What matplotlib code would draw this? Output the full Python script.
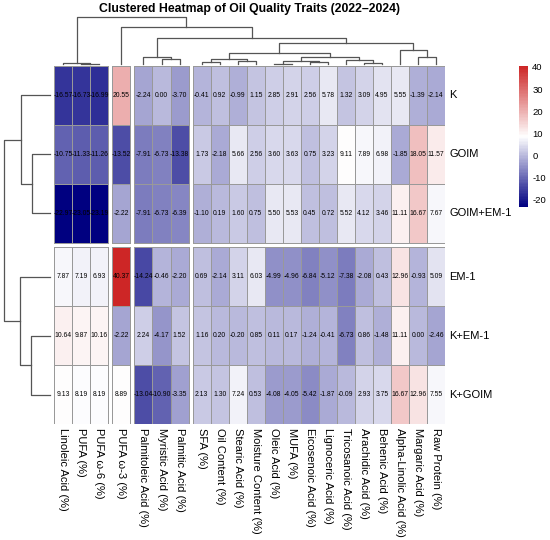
import numpy as np
import matplotlib
matplotlib.use("Agg")
import matplotlib.pyplot as plt
from matplotlib.colors import LinearSegmentedColormap, Normalize
from matplotlib.cm import ScalarMappable

plt.rcParams["font.family"] = ["Liberation Sans", "DejaVu Sans"]
plt.rcParams["axes.unicode_minus"] = False

# ----------------------------------------------------------------------------
# data, in the order shown on the reference
treatments = ["K", "GOIM", "GOIM+EM-1", "EM-1", "K+EM-1", "K+GOIM"]
traits = [
    "Linoleic Acid (%)", "PUFA (%)", "PUFA \u03c9-6 (%)", "PUFA \u03c9-3 (%)",
    "Palmitoleic Acid (%)", "Myristic Acid (%)", "Palmitic Acid (%)", "SFA (%)",
    "Oil Content (%)", "Stearic Acid (%)", "Moisture Content (%)", "Oleic Acid (%)",
    "MUFA (%)", "Eicosenoic Acid (%)", "Lignoceric Acid (%)", "Tricosanoic Acid (%)",
    "Arachidic Acid (%)", "Behenic Acid (%)", "Alpha-Linolic Acid (%)",
    "Margaric Acid (%)", "Raw Protein (%)",
]
row_k = [-16.57, -16.73, -16.99, 20.55, -2.24, 0.00, -3.70, -0.41, 0.92, -0.99, 1.15,
         2.85, 2.91, 2.56, 5.78, 1.32, 3.09, 4.95, 5.55, -1.39, -2.14]
row_goim = [-10.75, -11.33, -11.26, -13.52, -7.91, -6.73, -13.38, 1.73, -2.18, 5.66, 2.56,
            3.60, 3.63, 0.75, 3.23, 9.11, 7.89, 6.98, -1.85, 18.05, 11.57]
row_goim_em1 = [-22.97, -23.05, -23.19, -2.22, -7.91, -6.73, -6.39, -1.10, 0.19, 1.60, 0.75,
                5.50, 5.53, 0.45, 0.72, 5.52, 4.12, 3.46, 11.11, 16.67, 7.67]
row_em1 = [7.87, 7.19, 6.93, 40.37, -14.24, -0.46, -2.20, 0.69, -2.14, 3.11, 6.03,
           -4.99, -4.96, -6.84, -5.12, -7.38, -2.08, 0.43, 12.96, -0.93, 5.09]
row_k_em1 = [10.64, 9.87, 10.16, -2.22, 2.24, -4.17, 1.52, 1.16, 0.20, -0.20, 0.85,
             0.11, 0.17, -1.24, -0.41, -6.73, 0.86, -1.48, 11.11, 0.00, -2.46]
row_k_goim = [9.13, 8.19, 8.19, 8.89, -13.04, -10.90, -3.35, 2.13, 1.30, 7.24, 0.53,
              -4.08, -4.05, -5.42, -1.87, -0.09, 2.93, 3.75, 16.67, 12.96, 7.55]

# column tree: (child a, child b, relative height);
# ids < 21 are leaves in display order, id 21 + k is merge k
col_merges = [
    (11, 12, 0.01), (13, 14, 0.04), (21, 22, 0.07), (16, 17, 0.03),
    (15, 24, 0.09), (23, 25, 0.15), (7, 8, 0.05), (9, 10, 0.07),
    (27, 28, 0.10), (29, 26, 0.23), (19, 20, 0.15), (18, 31, 0.30),
    (30, 32, 0.45), (5, 6, 0.11), (4, 34, 0.15), (35, 33, 0.55),
    (3, 36, 0.79), (1, 2, 0.01), (0, 38, 0.02), (39, 37, 1.00),
]

gaps_row = [3]
gaps_col = [3, 4, 7]

# ----------------------------------------------------------------------------
FIG_W, FIG_H = 550, 540


def px_axes(fig, x0, y0, x1, y1):
    return fig.add_axes([x0 / FIG_W, 1 - y1 / FIG_H, (x1 - x0) / FIG_W, (y1 - y0) / FIG_H])


def complete_linkage(X):
    n = len(X)
    D = np.sqrt(((X[:, None, :] - X[None, :, :]) ** 2).sum(-1))
    members = {i: [i] for i in range(n)}
    active = list(range(n))
    merges = []
    nid = n
    while len(active) > 1:
        best = None
        for ii in range(len(active)):
            for jj in range(ii + 1, len(active)):
                a, b = active[ii], active[jj]
                d = D[np.ix_(members[a], members[b])].max()
                if best is None or d < best[2]:
                    best = (a, b, d)
        a, b, d = best
        members[nid] = members[a] + members[b]
        merges.append((a, b, d))
        active = [c for c in active if c not in (a, b)] + [nid]
        nid += 1
    return merges


def draw_tree(ax, merges, leaf_pos, horizontal):
    n = len(leaf_pos)
    pos = {i: leaf_pos[i] for i in range(n)}
    hgt = {i: 0.0 for i in range(n)}
    for k, (a, b, d) in enumerate(merges):
        pa, pb = pos[a], pos[b]
        xs = [pa, pa, pb, pb]
        ys = [hgt[a], d, d, hgt[b]]
        if horizontal:
            ax.plot(ys, xs, color="#555555", lw=0.9, clip_on=False)
        else:
            ax.plot(xs, ys, color="#555555", lw=0.9, clip_on=False)
        pos[n + k] = (pa + pb) / 2
        hgt[n + k] = d
    return max(d for _, _, d in merges)


def positions(count, size, gaps, gap):
    edges = []
    for i in range(count):
        start = i * size + gap * sum(1 for g in gaps if g <= i)
        edges.append(start)
    return np.array(edges)


data = np.array([row_k, row_goim, row_goim_em1, row_em1, row_k_em1, row_k_goim])
nr, nc = data.shape

fig = plt.figure(figsize=(FIG_W / 100, FIG_H / 100), dpi=100)

# heatmap geometry in pixels
HX0, HX1, HY0, HY1 = 54, 445, 66, 424
gap = 4.2
W, H = HX1 - HX0, HY1 - HY0
cw = (W - gap * len(gaps_col)) / nc
rh = (H - gap * len(gaps_row)) / nr
col_left = positions(nc, cw, gaps_col, gap)
row_top = positions(nr, rh, gaps_row, gap)

cmap = LinearSegmentedColormap.from_list("nwf", ["navy", "white", "#CD2626"], N=100)
norm = Normalize(vmin=data.min(), vmax=data.max())

ax = px_axes(fig, HX0, HY0, HX1, HY1)
bounds_c = [0] + gaps_col + [nc]
bounds_r = [0] + gaps_row + [nr]
for r0, r1 in zip(bounds_r[:-1], bounds_r[1:]):
    for c0, c1 in zip(bounds_c[:-1], bounds_c[1:]):
        xe = np.append(col_left[c0:c1], col_left[c1 - 1] + cw)
        ye = np.append(row_top[r0:r1], row_top[r1 - 1] + rh)
        ax.pcolormesh(xe, ye, data[r0:r1, c0:c1], cmap=cmap, norm=norm,
                      edgecolors="#999999", linewidth=0.6)
for i in range(nr):
    for j in range(nc):
        ax.text(col_left[j] + cw / 2, row_top[i] + rh / 2, f"{data[i, j]:.2f}",
                ha="center", va="center", fontsize=4.9, color="black")
ax.set_xlim(0, W)
ax.set_ylim(H, 0)
ax.axis("off")

# row / column labels
for i, name in enumerate(treatments):
    ax.text(W + 4, row_top[i] + rh / 2, name, ha="left", va="center", fontsize=8,
            clip_on=False)
for j, name in enumerate(traits):
    ax.text(col_left[j] + cw / 2, H + 4, name, ha="center", va="top", rotation=270,
            fontsize=8, clip_on=False)

# dendrograms
row_centers = row_top + rh / 2
col_centers = col_left + cw / 2

axr = px_axes(fig, 4, HY0, 50, HY1)
top = draw_tree(axr, complete_linkage(data), row_centers, horizontal=True)
axr.set_ylim(H, 0)
axr.set_xlim(top, 0)
axr.axis("off")

axc = px_axes(fig, HX0, 17, HX1, 64)
top = draw_tree(axc, col_merges, col_centers, horizontal=False)
axc.set_xlim(0, W)
axc.set_ylim(0, top)
axc.axis("off")

# colour legend
cax = px_axes(fig, 519, 66, 528, 207)
cb = fig.colorbar(ScalarMappable(norm=norm, cmap=cmap), cax=cax)
cb.set_ticks([-20, -10, 0, 10, 20, 30, 40])
cb.outline.set_visible(False)
cax.tick_params(length=0, labelsize=6.8, pad=3)

fig.text((HX0 + HX1) / 2 / FIG_W, 1 - 9 / FIG_H,
         "Clustered Heatmap of Oil Quality Traits (2022\u20132024)",
         ha="center", va="center", fontsize=8.8, fontweight="bold")

fig.savefig("out.png", dpi=100)
